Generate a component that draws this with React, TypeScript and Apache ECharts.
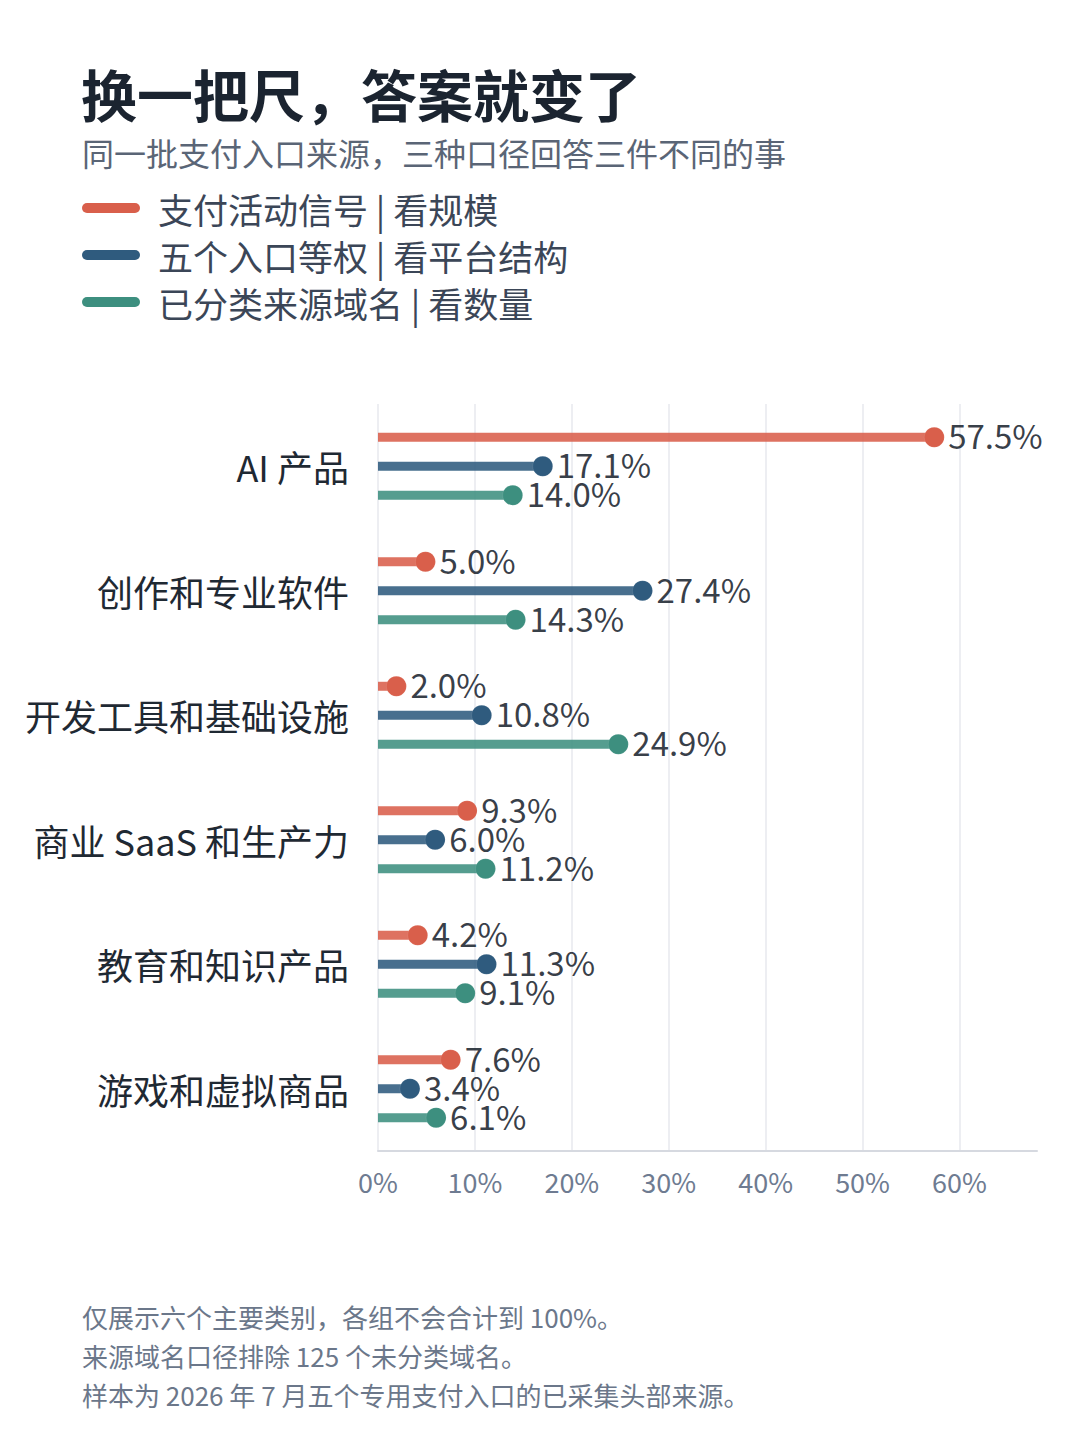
import React, { useEffect, useRef } from "react";
import * as echarts from "echarts";

const categories = [
  "AI 产品",
  "创作和专业软件",
  "开发工具和基础设施",
  "商业 SaaS 和生产力",
  "教育和知识产品",
  "游戏和虚拟商品",
];
const seriesNames = ["支付活动信号 | 看规模", "五个入口等权 | 看平台结构", "已分类来源域名 | 看数量"];
const activitySignal = [57.5, 5.0, 2.0, 9.3, 4.2, 7.6];
const equalWeight = [17.1, 27.4, 10.8, 6.0, 11.3, 3.4];
const domainCount = [14.0, 14.3, 24.9, 11.2, 9.1, 6.1];
const seriesValues = [activitySignal, equalWeight, domainCount];
const seriesColors = ["#D95F4B", "#2F5B7E", "#3D8F7F"];

const title = "换一把尺，答案就变了";
const subtitle = "同一批支付入口来源，三种口径回答三件不同的事";
const footnotes = [
  "仅展示六个主要类别，各组不会合计到 100%。",
  "来源域名口径排除 125 个未分类域名。",
  "样本为 2026 年 7 月五个专用支付入口的已采集头部来源。",
];

const FONT = '"Noto Sans CJK SC", "Noto Sans", sans-serif';

export default function App() {
  const ref = useRef<HTMLDivElement>(null);

  useEffect(() => {
    document.body.style.margin = "0";
    if (!ref.current) return;
    const chart = echarts.init(ref.current, null, { renderer: "svg" });

    const barWidth = 9;
    const barGap = "222%";

    const series: any[] = [];
    seriesValues.forEach((vals, i) => {
      series.push({
        type: "bar",
        name: seriesNames[i],
        data: vals,
        barWidth,
        barGap,
        itemStyle: { color: seriesColors[i], opacity: 0.88 },
        label: {
          show: true,
          position: "right",
          distance: 13,
          offset: [0, -2],
          formatter: (p: any) => Number(p.value).toFixed(1) + "%",
          fontFamily: FONT,
          fontSize: 33,
          color: "#1C2530",
        },
        z: 2,
      });
    });
    seriesValues.forEach((vals, i) => {
      series.push({
        type: "pictorialBar",
        name: seriesNames[i] + " 点",
        data: vals,
        barWidth,
        barGap,
        symbol: "circle",
        symbolSize: 20,
        symbolPosition: "end",
        symbolOffset: [10, 0],
        itemStyle: { color: seriesColors[i], borderColor: "#ffffff", borderWidth: 2 },
        z: 4,
      });
    });

    const graphics: any[] = [
      {
        type: "text",
        style: {
          text: title,
          x: 81,
          y: 92,
          fill: "#1B2430",
          font: `bold 56px ${FONT}`,
          textVerticalAlign: "middle",
        },
      },
      {
        type: "text",
        style: {
          text: subtitle,
          x: 82,
          y: 152,
          fill: "#5A6576",
          font: `32px ${FONT}`,
          textVerticalAlign: "middle",
        },
      },
    ];
    seriesNames.forEach((name, i) => {
      const cy = 208 + i * 47;
      graphics.push({
        type: "rect",
        shape: { x: 82, y: cy - 5, width: 58, height: 10, r: 5 },
        style: { fill: seriesColors[i] },
      });
      graphics.push({
        type: "text",
        style: {
          text: name,
          x: 158,
          y: cy,
          fill: "#3B4657",
          font: `35px ${FONT}`,
          textVerticalAlign: "middle",
        },
      });
    });
    footnotes.forEach((t, i) => {
      graphics.push({
        type: "text",
        style: {
          text: t,
          x: 82,
          y: 1316 + i * 39,
          fill: "#6B778A",
          font: `26px ${FONT}`,
          textVerticalAlign: "middle",
        },
      });
    });

    chart.setOption({
      animation: false,
      backgroundColor: "#ffffff",
      grid: { left: 378, right: 43, top: 404, bottom: 289, containLabel: false },
      xAxis: {
        type: "value",
        min: 0,
        max: 68,
        interval: 10,
        axisLine: { show: true, lineStyle: { color: "#D6D9E0", width: 2 } },
        axisTick: { show: false },
        axisLabel: {
          formatter: "{value}%",
          fontFamily: FONT,
          fontSize: 27,
          color: "#6E7B91",
          margin: 17,
          showMaxLabel: false,
        },
        splitLine: { show: true, showMaxLine: false, lineStyle: { color: "#E7E9EE", width: 1.5 } },
      },
      yAxis: {
        type: "category",
        data: categories,
        inverse: true,
        axisLine: { show: false },
        axisTick: { show: false },
        axisLabel: {
          fontFamily: FONT,
          fontSize: 36,
          color: "#1F2933",
          margin: 29,
        },
        splitLine: { show: false },
      },
      graphic: graphics,
      series,
    });

    return () => chart.dispose();
  }, []);

  return <div ref={ref} style={{ width: 1080, height: 1440 }} />;
}
